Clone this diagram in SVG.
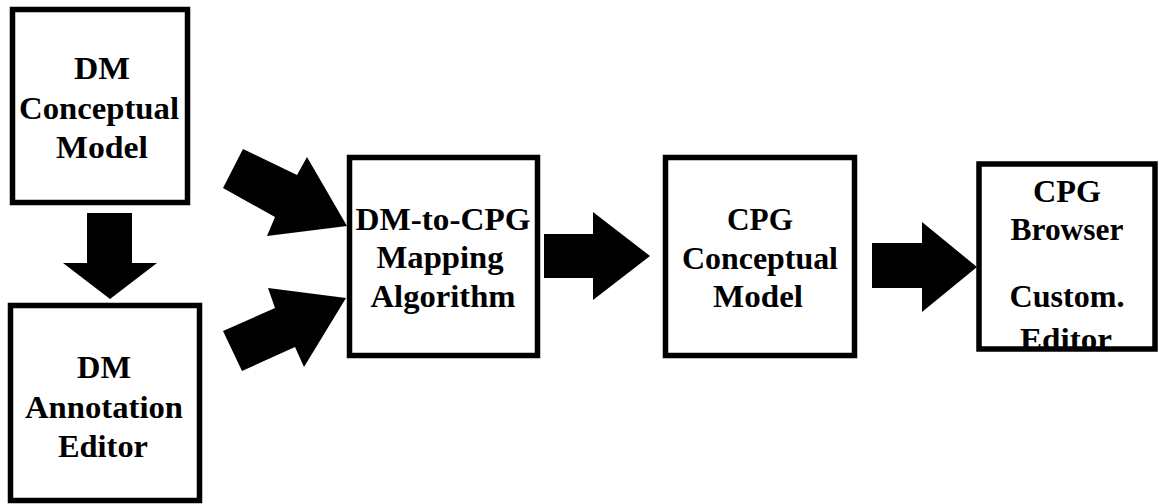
<svg xmlns="http://www.w3.org/2000/svg" width="1159" height="504" viewBox="0 0 1159 504">
  <style>
    .box { fill: #ffffff; stroke: #000000; stroke-width: 5.5; }
    .frame { fill: none; stroke: #000000; stroke-width: 5.5; }
    .lbl { font-family: "Liberation Serif", "Times New Roman", serif; font-weight: bold; font-size: 31px; fill: #000000; text-anchor: middle; }
    .arrow { fill: #000000; stroke: none; }
  </style>
  <rect width="1159" height="504" fill="#ffffff"/>

  <!-- block arrows between the stages -->
  <g id="connectors">
    <polygon class="arrow" points="87,213 132,213 132,263 157,263 110,299 63,263 87,263"/>
    <polygon class="arrow" points="243,149 297,175 307,157 347,226 267,236 275,217 223,188"/>
    <polygon class="arrow" points="223,331 275,308 268,288 346,298 304,367 295,347 242,371"/>
    <polygon class="arrow" points="544,234 593,234 593,212 650,256 593,300 593,278 544,278"/>
    <polygon class="arrow" points="872,243 922,243 922,222 977,267 922,312 922,288 872,288"/>
  </g>

  <g id="dm-conceptual-model">
    <rect class="box" x="12.5" y="9.5" width="175" height="193"/>
    <text class="lbl" x="102" y="79" textLength="56" lengthAdjust="spacingAndGlyphs">DM</text>
    <text class="lbl" x="99" y="119" textLength="160" lengthAdjust="spacingAndGlyphs">Conceptual</text>
    <text class="lbl" x="102" y="158" textLength="92" lengthAdjust="spacingAndGlyphs">Model</text>
  </g>

  <g id="dm-annotation-editor">
    <rect class="box" x="10.5" y="305.5" width="189" height="195"/>
    <text class="lbl" x="104" y="378" textLength="54" lengthAdjust="spacingAndGlyphs">DM</text>
    <text class="lbl" x="104" y="418" textLength="158" lengthAdjust="spacingAndGlyphs">Annotation</text>
    <text class="lbl" x="103" y="457" textLength="90" lengthAdjust="spacingAndGlyphs">Editor</text>
  </g>

  <g id="mapping-algorithm">
    <rect class="box" x="349.5" y="157.5" width="188" height="198"/>
    <text class="lbl" x="443" y="230" textLength="175" lengthAdjust="spacingAndGlyphs">DM-to-CPG</text>
    <text class="lbl" x="440" y="268" textLength="127" lengthAdjust="spacingAndGlyphs">Mapping</text>
    <text class="lbl" x="443" y="307" textLength="145" lengthAdjust="spacingAndGlyphs">Algorithm</text>
  </g>

  <g id="cpg-conceptual-model">
    <rect class="box" x="665.5" y="157.5" width="189" height="198"/>
    <text class="lbl" x="760" y="230" textLength="66" lengthAdjust="spacingAndGlyphs">CPG</text>
    <text class="lbl" x="760" y="269" textLength="156" lengthAdjust="spacingAndGlyphs">Conceptual</text>
    <text class="lbl" x="758" y="307" textLength="90" lengthAdjust="spacingAndGlyphs">Model</text>
  </g>

  <g id="cpg-browser-editor">
    <rect x="979" y="164" width="176" height="185" fill="#ffffff"/>
    <text class="lbl" x="1067" y="202" textLength="68" lengthAdjust="spacingAndGlyphs">CPG</text>
    <text class="lbl" x="1067" y="240" textLength="113" lengthAdjust="spacingAndGlyphs">Browser</text>
    <text class="lbl" x="1067" y="307" textLength="115" lengthAdjust="spacingAndGlyphs">Custom.</text>
    <text class="lbl" x="1066" y="350" textLength="92" lengthAdjust="spacingAndGlyphs">Editor</text>
    <!-- frame drawn last so its bottom edge sits over the last line -->
    <rect class="frame" x="979" y="164" width="176" height="185"/>
  </g>
</svg>
